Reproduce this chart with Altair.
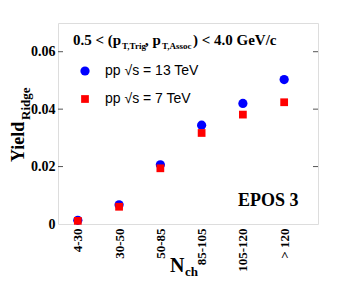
import altair as alt
import pandas as pd

categories = ["4-30", "30-50", "50-85", "85-105", "105-120", "> 120"]
yield_13tev = [0.0013, 0.0067, 0.0206, 0.0344, 0.0420, 0.0503]
yield_7tev = [0.0011, 0.0060, 0.0194, 0.0317, 0.0381, 0.0424]
series_names = ["pp \u221as = 13 TeV", "pp \u221as = 7 TeV"]
y_ticks = [0.02, 0.04, 0.06]

W, H = 260, 201
SERIF = "Liberation Serif"
SANS = "Liberation Sans"

rows = []
for i, v in enumerate(yield_13tev):
    rows.append({"idx": i, "cat": categories[i], "series": series_names[0], "y": v})
for i, v in enumerate(yield_7tev):
    rows.append({"idx": i, "cat": categories[i], "series": series_names[1], "y": v})
df = pd.DataFrame(rows)

label_expr = "[" + ",".join("'" + c + "'" for c in categories) + "][datum.value]"

xscale = alt.Scale(domain=[-0.48, 5.82], nice=False, zero=False)
yscale = alt.Scale(domain=[0, 0.07], nice=False)

points = alt.Chart(df).mark_point(filled=True, opacity=1).encode(
    x=alt.X("idx:Q", scale=xscale,
            axis=alt.Axis(values=list(range(len(categories))), labelExpr=label_expr,
                          labelAngle=270, labelFont=SERIF, labelFontWeight="bold",
                          labelFontSize=13, labelColor="black", labelPadding=4,
                          ticks=False, domain=False, grid=False, title=None)),
    y=alt.Y("y:Q", scale=yscale,
            axis=alt.Axis(values=[0] + y_ticks, format=".2~f", labelFont=SERIF,
                          labelFontWeight="bold", labelFontSize=14, labelColor="black",
                          labelPadding=3, ticks=False, domain=False, grid=False, title=None)),
    color=alt.Color("series:N", scale=alt.Scale(domain=series_names, range=["#0000ff", "#ff0000"]),
                    legend=alt.Legend(orient="none", legendX=20, legendY=41, title=None,
                                      labelFont=SANS, labelFontSize=14, labelColor="black",
                                      symbolSize=75, rowPadding=14, labelOffset=13,
                                      symbolStrokeWidth=0)),
    shape=alt.Shape("series:N", scale=alt.Scale(domain=series_names, range=["circle", "square"])),
    size=alt.Size("series:N", scale=alt.Scale(domain=series_names, range=[85, 60]), legend=None),
)

tick_df = pd.DataFrame({"y": y_ticks})
left_ticks = alt.Chart(tick_df).mark_rule(color="#555", strokeWidth=1).encode(
    y=alt.Y("y:Q", scale=yscale), x=alt.value(0), x2=alt.value(5))
right_ticks = alt.Chart(tick_df).mark_rule(color="#555", strokeWidth=1).encode(
    y=alt.Y("y:Q", scale=yscale), x=alt.value(W - 5), x2=alt.value(W))


def txt(s, x, y, size, font=SERIF, weight="bold", angle=0, align="left", baseline="alphabetic"):
    return alt.Chart(pd.DataFrame({"t": [s]})).mark_text(
        font=font, fontSize=size, fontWeight=weight, angle=angle, align=align,
        baseline=baseline, color="black").encode(text="t:N", x=alt.value(x), y=alt.value(y))


texts = [
    txt("0.5 < (p", 15, 22, 15),
    txt("T,Trig", 64, 26, 9),
    txt(", p", 87, 22, 15),
    txt("T,Assoc", 104, 26, 9),
    txt(") < 4.0 GeV/c", 135, 22, 15),
    txt("EPOS 3", 180, 183, 18),
    txt("Yield", -34, 139, 18, angle=270),
    txt("Ridge", -28, 97, 13, angle=270),
    txt("N", 112, 249, 20),
    txt("ch", 127, 253, 13),
]

chart = alt.layer(left_ticks, right_ticks, points, *texts).properties(
    width=W, height=H,
    autosize=alt.AutoSizeParams(type="none"),
    padding={"left": 50, "top": 15, "right": 13, "bottom": 57},
).configure_view(stroke="#555", strokeWidth=1.5).configure(background="white")

chart.save("out.html", embed_options={"renderer": "svg", "actions": False})
